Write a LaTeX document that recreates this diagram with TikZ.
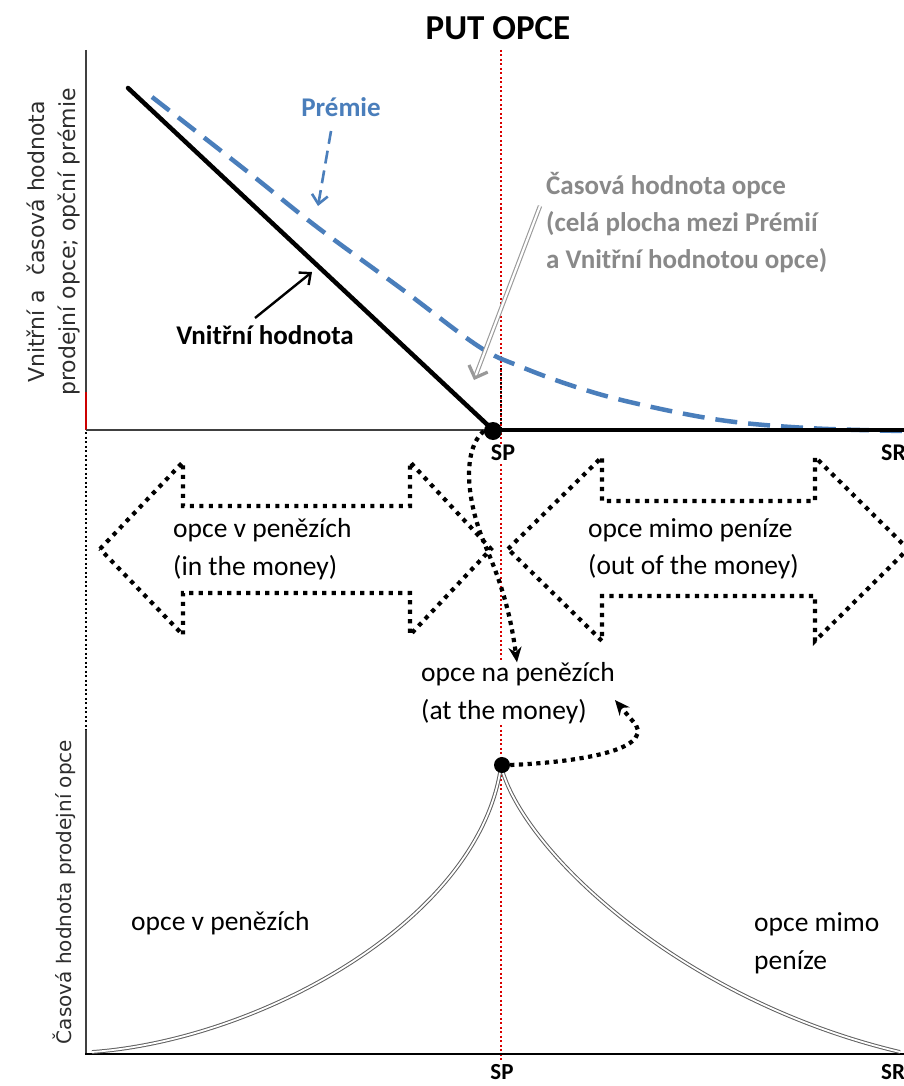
\documentclass[tikz,border=0pt]{standalone}
\usepackage{fontspec}
\setmainfont{Carlito}
\newfontfamily\axisfont{DejaVu Sans}
\usetikzlibrary{arrows.meta}

\definecolor{premblue}{RGB}{74,126,187}
\definecolor{notegray}{RGB}{137,137,137}
\definecolor{axisgray}{RGB}{64,64,64}
\definecolor{labelgray}{RGB}{45,45,45}

\tikzset{
  axisline/.style={axisgray, line width=1.6pt},
  guide/.style={red!85!black, line width=1.1pt, dash pattern=on 2pt off 2.5pt},
  dotted outline/.style={black, line width=4.2pt, dash pattern=on 4.2pt off 5.3pt},
  dotted link/.style={black, line width=4.2pt, dash pattern=on 4.2pt off 4.5pt,
    -{Stealth[length=15pt,width=13pt]}},
  bold label/.style={font=\fontsize{27}{37}\selectfont\bfseries, inner sep=0pt},
  plain label/.style={font=\fontsize{27.5}{37.5}\selectfont, inner sep=0pt, align=left},
  axis label/.style={font=\axisfont, text=labelgray, rotate=90, align=center, inner sep=0pt},
  bigdot/.style={circle, fill=black, inner sep=0pt},
  timecurve/.style={gray!75!black, line width=1pt, double=white, double distance=1.8pt}
}

\begin{document}
\begin{tikzpicture}[x=1pt,y=-1pt]
\useasboundingbox (0,0) rectangle (904,1086);
\fill[white] (0,0) rectangle (904,1086);

% strike price guide line through both charts
\draw[guide] (501,50) -- (501,1062);
\draw[black, line width=1.1pt, dash pattern=on 2pt off 2.5pt] (501,368) -- (501,428);

% ---------- upper chart ----------
\node[font=\fontsize{35}{40}\selectfont\bfseries, inner sep=0pt] (title) at (498,28) {PUT OPCE};

\draw[axisline] (86,50) -- (86,392);
\draw[red!80!black, line width=1.6pt] (86,392) -- (86,430);
\draw[axisgray, line width=1.6pt] (86,430) -- (493,430);
\draw[black, line width=1.3pt, dash pattern=on 2pt off 2.5pt] (86,432) -- (86,730);

\node[axis label, font=\axisfont\fontsize{22}{31}\selectfont] (ylabtop) at (53,242)
  {Vnitřní a \ časová hodnota\\prodejní opce; opční prémie};

% premium curve
\draw[premblue, line width=4.5pt, dash pattern=on 22pt off 11pt]
  plot[smooth, tension=0.6] coordinates {(152,97) (248,172) (317,227) (403,290) (478,346)
    (519,366) (576,387) (634,403) (720,420) (807,428) (904,431)};

% intrinsic value
\draw[black, line width=4.5pt] (493,430) -- (904,430);
\draw[black, line width=4.5pt, line cap=round] (128,88) -- (493,430);
\node[bigdot, minimum size=18pt] (spdot) at (493,431) {};

\node[bold label, text=premblue] (premie) at (341,107) {Prémie};
\coordinate (premietip) at (318,206);
\draw[premblue, line width=2.6pt, dash pattern=on 13pt off 7pt,
  -{Straight Barb[length=9pt,width=16pt,line width=2.6pt]}] (331,131) -- (premietip);

\node[bold label] (intrinsic) at (265,335) {Vnitřní hodnota};
\coordinate (intrinsictip) at (312,272);
\draw[black, line width=2.4pt, -{Straight Barb[length=9pt,width=16pt,line width=2.4pt]}]
  (255,318) -- (intrinsictip);

\node[bold label, text=notegray, align=left, anchor=west] (timenote) at (546,223)
  {Časová hodnota opce\\(celá plocha mezi Prémií\\a Vnitřní hodnotou opce)};
\coordinate (timetail) at (540,206);
\coordinate (timetip) at (474,380);
\draw[gray!80, line width=1.1pt, double=white, double distance=2.2pt,
  -{Straight Barb[length=10pt,width=20pt,line width=3.2pt]}] (timetail) -- (timetip);

\node[bold label, font=\fontsize{24}{28}\selectfont\bfseries, fill=white, inner sep=1pt] (sptop) at (503,453) {SP};
\node[bold label, font=\fontsize{24}{28}\selectfont\bfseries, anchor=west] (srtop) at (881,453) {SR};

% ---------- moneyness arrows ----------
\draw[dotted outline] (100,549) -- (183,462) -- (183,506) -- (410,506) -- (410,462)
  -- (491,549) -- (410,635) -- (410,593) -- (183,593) -- (183,635) -- cycle;
\draw[dotted outline] (508,549) -- (602,457) -- (602,501) -- (815,501) -- (815,457)
  -- (908,549) -- (815,641) -- (815,596) -- (602,596) -- (602,641) -- cycle;

\node[plain label, anchor=west] (itm) at (173,549) {opce v penězích\\(in the money)};
\node[plain label, anchor=west] (otm) at (588,549) {opce mimo peníze\\(out of the money)};
\node[plain label, anchor=west, fill=white] (atm) at (421,693) {opce na penězích\\(at the money)};

% ---------- lower chart ----------
\draw[axisline] (86,730) -- (86,1055);
\draw[black, line width=2.2pt] (85,1054) -- (904,1054);

\node[axis label, font=\axisfont\fontsize{20}{24}\selectfont] (ylabbottom) at (64,892)
  {Časová hodnota prodejní opce};

% time value of the put around the strike
\draw[timecurve] (92,1052) .. controls (260,1040) and (480,920) .. (501,766);
\draw[timecurve] (501,766) .. controls (522,850) and (680,1000) .. (900,1052);

\node[bigdot, minimum size=16pt] (peakdot) at (502,765) {};

\node[plain label, anchor=base west] (itmlow) at (131,930) {opce v penězích};
\node[plain label, anchor=west] (otmlow) at (754,943) {opce mimo\\peníze};

\node[bold label, font=\fontsize{23}{28}\selectfont\bfseries] (splow) at (502,1072) {SP};
\node[bold label, font=\fontsize{23}{28}\selectfont\bfseries, anchor=west] (srlow) at (881,1072) {SR};

% ---------- connectors to the at-the-money label ----------
\draw[dotted link] (spdot.west) .. controls (462,450) and (466,500) .. (485,545)
  .. controls (500,580) and (510,610) .. (atm.north -| 517,0);
\draw[dotted link] (peakdot.east) .. controls (580,762) and (650,750) .. (636,725)
  -- (atm.east |- 0,700) ;
\end{tikzpicture}
\end{document}
